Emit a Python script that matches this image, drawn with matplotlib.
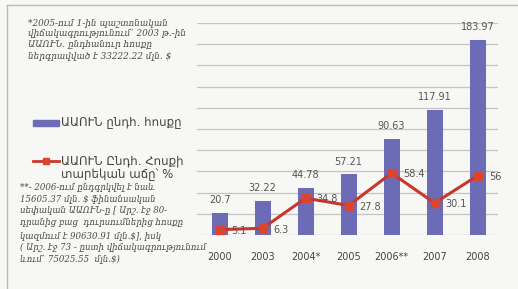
import numpy as np
import matplotlib
matplotlib.use("Agg")
from matplotlib import pyplot as plt
from matplotlib.lines import Line2D

# data
years = ["2000", "2003", "2004*", "2005", "2006**", "2007", "2008"]
flow = [20.7, 32.22, 44.78, 57.21, 90.63, 117.91, 183.97]
growth = [5.1, 6.3, 34.8, 27.8, 58.4, 30.1, 56]

legend_bar = "ԱԱՈՒՆ ընդհ. հոսքը"
legend_line = "ԱԱՈՒՆ Ընդհ. Հոսքի\nտարեկան աճը՝ %"
note_top = ("*2005-ում 1-ին պաշտոնական\n"
            "վիճակագրությունում՝ 2003 թ.-ին\n"
            "ԱԱՈՒՆ. ընդհանուր հոսքը\n"
            "ներգրավված է 33222.22 մլն. $")
note_bottom = ("**- 2006-ում ընդգրկվել է նաև\n"
               "15605.37 մլն. $ ֆինանսական\n"
               "սեփական ԱԱՈՒՆ-ը [ Արշ. էջ 80-\n"
               "դրանից բաց  դուրսումներից հոսքը\n"
               "կազմում է 90630.91 մլն.$], իսկ\n"
               "( Արշ. էջ 73 - ըստի վիճակագրությունում\n"
               "ևում՝ 75025.55  մլն.$)")

bar_color = "#6c6cb6"
line_color = "#c8372d"
bg = "#f7f7f5"

fig = plt.figure(figsize=(5.18, 2.89), dpi=100, facecolor=bg)
ax = fig.add_axes([0.380, 0.187, 0.581, 0.733])
ax.set_facecolor(bg)

x = np.arange(len(years))
ax.bar(x, flow, width=0.37, color=bar_color, zorder=2)
ax.plot(x, growth, color=line_color, lw=2.2, marker="s", ms=6,
        mfc="#d9452f", mec="#d9452f", zorder=3)

for xi, v in zip(x, flow):
    ax.annotate(f"{v:g}", (xi, v), xytext=(0, 5.5), textcoords="offset points",
                ha="center", va="bottom", fontsize=7, color="#555555")
for xi, v in zip(x, growth):
    ax.annotate(f"{v:g}", (xi, v), xytext=(8, -1), textcoords="offset points",
                ha="left", va="center", fontsize=7, color="#555555", zorder=4)

ax.set_ylim(0, 200)
ax.set_xlim(-0.53, 6.47)
ax.set_yticks(np.arange(0, 201, 20))
ax.yaxis.grid(True, color="#c4c4c4", lw=0.9, zorder=0)
ax.set_axisbelow(True)
ax.tick_params(axis="y", left=False, labelleft=False)
ax.tick_params(axis="x", length=0, pad=12, labelsize=7, labelcolor="#444444")
ax.set_xticks(x)
ax.set_xticklabels(years)
for s in ax.spines.values():
    s.set_visible(False)

# left-hand notes and legend
fig.text(28 / 518, 1 - 18 / 289, note_top, fontsize=6.4, style="italic",
         family="DejaVu Serif", color="#4a4a4a", va="top", linespacing=1.3)

fig.patches.append(plt.Rectangle((33 / 518, 1 - 126 / 289), 26 / 518, 6 / 289,
                                 transform=fig.transFigure, color=bar_color))
fig.text(61 / 518, 1 - 123 / 289, legend_bar, fontsize=8.5, color="#444444", va="center")

fig.lines.append(Line2D([33 / 518, 59 / 518], [1 - 161 / 289, 1 - 161 / 289],
                        transform=fig.transFigure, color=line_color, lw=2))
fig.lines.append(Line2D([46 / 518], [1 - 161 / 289], transform=fig.transFigure,
                        color="#d9452f", marker="s", ms=5, lw=0))
fig.text(61 / 518, 1 - 154 / 289, legend_line, fontsize=8.5, color="#444444",
         va="top", linespacing=1.15)

fig.text(20 / 518, 1 - 182 / 289, note_bottom, fontsize=6.2, style="italic",
         family="DejaVu Serif", color="#4a4a4a", va="top", linespacing=1.45)

# page frame
fig.lines.append(Line2D([7 / 518, 1], [1 - 5 / 289, 1 - 5 / 289],
                        transform=fig.transFigure, color="#bbbbbb", lw=1))
fig.lines.append(Line2D([7 / 518, 7 / 518], [0, 1 - 5 / 289],
                        transform=fig.transFigure, color="#bbbbbb", lw=1))

fig.savefig("out.png", dpi=100, facecolor=bg)
